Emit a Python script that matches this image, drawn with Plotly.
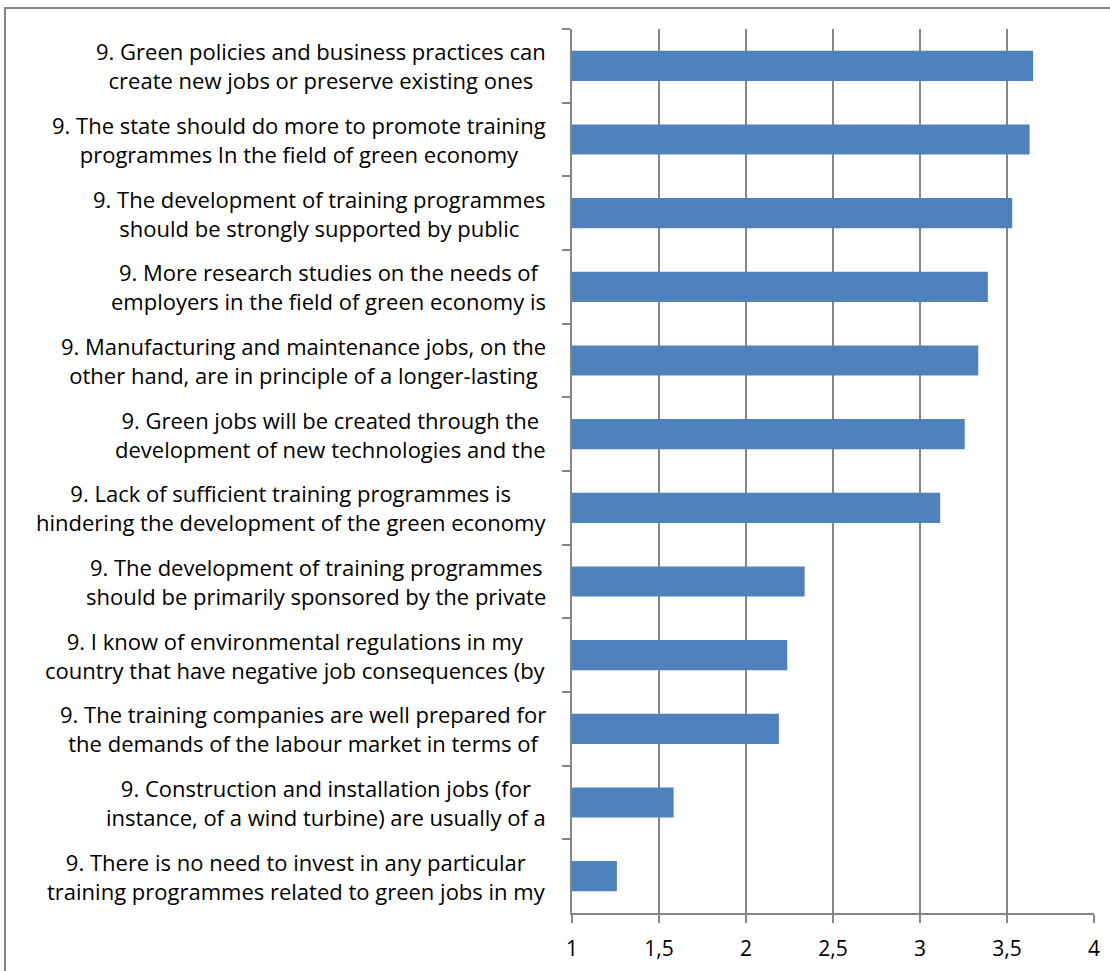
import plotly.graph_objects as go

categories = [
    "9. Green policies and business practices can<br>create new jobs or preserve existing ones",
    "9. The state should do more to promote training<br>programmes In the field of green economy",
    "9. The development of training programmes<br>should be strongly supported by public",
    "9. More research studies on the needs of<br>employers in the field of green economy is",
    "9. Manufacturing and maintenance jobs, on the<br>other hand, are in principle of a longer-lasting",
    "9. Green jobs will be created through the<br>development of new technologies and the",
    "9. Lack of sufficient training programmes is<br>hindering the development of the green economy",
    "9. The development of training programmes<br>should be primarily sponsored by the private",
    "9. I know of environmental regulations in my<br>country that have negative job consequences (by",
    "9. The training companies are well prepared for<br>the demands of the labour market in terms of",
    "9. Construction and installation jobs (for<br>instance, of a wind turbine) are usually of a",
    "9. There is no need to invest in any particular<br>training programmes related to green jobs in my",
]
values = [3.65, 3.63, 3.53, 3.39, 3.335, 3.257, 3.116, 2.337, 2.237, 2.189, 1.584, 1.258]
x_ticks = [1, 1.5, 2, 2.5, 3, 3.5, 4]

W, H = 1110, 971
ml, mr, mt, mb = 572, 16, 29, 58
pw = W - ml - mr
ph = H - mt - mb
FONT = "Open Sans, sans-serif"

fig = go.Figure()
fig.add_trace(go.Bar(
    x=values, y=categories, orientation="h", base=0,
    marker=dict(color="#4F81BD", line=dict(width=0)),
    hoverinfo="x+y",
))

for c in categories:
    fig.add_annotation(
        x=-24 / pw, xref="paper", y=c, yref="y",
        text=c, showarrow=False, xanchor="right", yanchor="middle", align="center",
        font=dict(family=FONT, size=22, color="#000000"),
    )

# outer chart-area border
fig.add_shape(type="rect", xref="paper", yref="paper",
              x0=(5 - ml) / pw, x1=(W + 20 - ml) / pw,
              y0=-(H + 20 - (H - mb)) / ph, y1=1 + (mt - 8) / ph,
              line=dict(color="#868686", width=2), fillcolor="rgba(0,0,0,0)", layer="below")

fig.update_layout(
    width=W, height=H,
    margin=dict(l=ml, r=mr, t=mt, b=mb, autoexpand=False),
    paper_bgcolor="white", plot_bgcolor="white",
    separators=", ",
    showlegend=False,
    bargap=0.59,
    xaxis=dict(
        range=[1, 4], tickvals=x_ticks, showgrid=True, gridcolor="#868686", gridwidth=2,
        showline=True, linecolor="#868686", linewidth=2,
        ticks="outside", ticklen=8, tickcolor="#868686", tickwidth=2,
        ticklabelstandoff=8,
        tickfont=dict(family=FONT, size=21, color="#000000"),
        zeroline=False, fixedrange=True,
    ),
    yaxis=dict(
        type="category", categoryorder="array", categoryarray=categories,
        autorange="reversed", showticklabels=False,
        showline=True, linecolor="#868686", linewidth=2,
        ticks="outside", ticklen=8, tickcolor="#868686", tickwidth=2, tickson="boundaries",
        showgrid=False, zeroline=False, fixedrange=True,
    ),
)

fig.write_html(
    "out.html",
    config={"displayModeBar": False},
    post_script="document.body.style.margin='0';document.body.style.overflow='hidden';",
)
